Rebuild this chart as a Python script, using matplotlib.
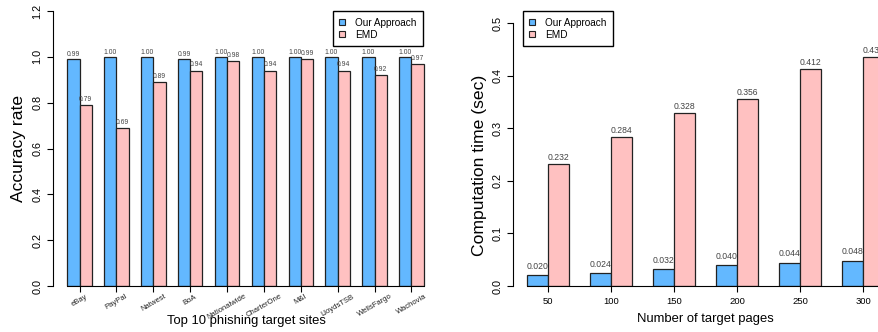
import matplotlib
matplotlib.use('Agg')
import matplotlib.pyplot as plt
from matplotlib.patches import Patch

plt.rcParams['font.family'] = ['Liberation Sans', 'DejaVu Sans']

# data
sites = ['eBay', 'PayPal', 'Natwest', 'BoA', 'Nationalwide', 'CharterOne',
         'M&I', 'LloydsTSB', 'WellsFargo', 'Wachovia']
acc_ours = [0.99, 1.00, 1.00, 0.99, 1.00, 1.00, 1.00, 1.00, 1.00, 1.00]
acc_emd = [0.79, 0.69, 0.89, 0.94, 0.98, 0.94, 0.99, 0.94, 0.92, 0.97]

pages = [50, 100, 150, 200, 250, 300]
time_ours = [0.020, 0.024, 0.032, 0.040, 0.044, 0.048]
time_emd = [0.232, 0.284, 0.328, 0.356, 0.412, 0.436]

series_names = ['Our Approach', 'EMD']
c_ours = '#63B8FF'
c_emd = '#FFC1C1'
edge = '#222222'

W, H = 879, 332
fig = plt.figure(figsize=(W / 100, H / 100), dpi=100)


def px_axes(x0, y_top, x1, y_bot):
    return fig.add_axes([x0 / W, 1 - y_bot / H, (x1 - x0) / W, (y_bot - y_top) / H])


def grouped(ax, a, b, fmt, fs, labels_off):
    # R barplot style: beside=TRUE, space=c(0,1)
    n = len(a)
    xa = [1.5 + 3 * k for k in range(n)]
    xb = [2.5 + 3 * k for k in range(n)]
    ax.bar(xa, a, width=1, color=c_ours, edgecolor=edge, linewidth=0.9)
    ax.bar(xb, b, width=1, color=c_emd, edgecolor=edge, linewidth=0.9)
    for x, v in zip(xa, a):
        ax.annotate(fmt.format(v), (x, v), xytext=(0, labels_off[0]), textcoords='offset points',
                    ha='center', va='bottom', fontsize=fs, color='#444444')
    for x, v in zip(xb, b):
        ax.annotate(fmt.format(v), (x, v), xytext=(0, labels_off[1]), textcoords='offset points',
                    ha='center', va='bottom', fontsize=fs, color='#444444')
    ax.set_xticks([2 + 3 * k for k in range(n)])
    ax.spines['top'].set_visible(False)
    ax.spines['right'].set_visible(False)
    ax.spines['bottom'].set_bounds(1, 3 * n)
    ax.tick_params(axis='both', length=4.5, width=0.8, color='black')
    ax.tick_params(axis='y', labelsize=7.8, pad=3)
    return n


def rotate_yticks(ax):
    for t in ax.get_yticklabels():
        t.set_rotation(90)
        t.set_va('center')


def add_legend(ax, x0):
    handles = [Patch(facecolor=c_ours, edgecolor=edge, linewidth=0.8),
               Patch(facecolor=c_emd, edgecolor=edge, linewidth=0.8)]
    leg = ax.legend(handles, series_names, loc='upper left',
                    bbox_to_anchor=(x0 / W, 1 - 11 / H), bbox_transform=fig.transFigure,
                    fontsize=7.2, frameon=True, fancybox=False, edgecolor='black',
                    handlelength=0.55, handleheight=0.55, handletextpad=1.0,
                    borderpad=0.65, labelspacing=0.2, borderaxespad=0)
    leg.get_frame().set_linewidth(1.0)
    leg.get_frame().set_alpha(1)


# left panel: accuracy
ax1 = px_axes(53, 11, 53 + 385, 286)
n = grouped(ax1, acc_ours, acc_emd, '{:.2f}', 4.9, (0.6, 1.5))
ax1.set_xlim(-0.16, 3 * n + 1.16)
ax1.set_ylim(0, 1.2)
ax1.set_yticks([0.0, 0.2, 0.4, 0.6, 0.8, 1.0, 1.2])
ax1.set_yticklabels(['0.0', '0.2', '0.4', '0.6', '0.8', '1.0', '1.2'])
rotate_yticks(ax1)
ax1.spines['left'].set_bounds(0, 1.2)
ax1.set_xticklabels(sites, rotation=30, ha='center', fontsize=5.5, color='#222222')
ax1.tick_params(axis='x', pad=0.5)
ax1.set_xlabel('Top 10 phishing target sites', fontsize=9.4, va='center')
ax1.xaxis.set_label_coords((246 - 53) / 385, -(321 - 286) / 275)
ax1.set_ylabel('Accuracy rate', fontsize=12.6, va='center')
ax1.yaxis.set_label_coords(-(53 - 19) / 385, 0.5)
add_legend(ax1, 333)

# right panel: computation time
ax2 = px_axes(512.7, 10, 512.7 + 385.6, 286)
m = grouped(ax2, time_ours, time_emd, '{:.3f}', 6.2, (3.2, 1.5))
ax2.set_xlim(0.32, 3 * m + 0.68)
ax2.set_ylim(0, 0.5 * 276 / 263)
ax2.set_yticks([0.0, 0.1, 0.2, 0.3, 0.4, 0.5])
ax2.set_yticklabels(['0.0', '0.1', '0.2', '0.3', '0.4', '0.5'])
rotate_yticks(ax2)
ax2.spines['left'].set_bounds(0, 0.5)
ax2.set_xticklabels([str(p) for p in pages], fontsize=6.8)
ax2.tick_params(axis='x', pad=3.5)
ax2.set_xlabel('Number of target pages', fontsize=9.4, va='center')
ax2.xaxis.set_label_coords((705 - 512.7) / 385.6, -(319 - 286) / 276)
ax2.set_ylabel('Computation time (sec)', fontsize=12.6, va='center')
ax2.yaxis.set_label_coords(-(512.7 - 480) / 385.6, (286 - 165) / 276)
add_legend(ax2, 523)

fig.savefig('out.png', dpi=100)
